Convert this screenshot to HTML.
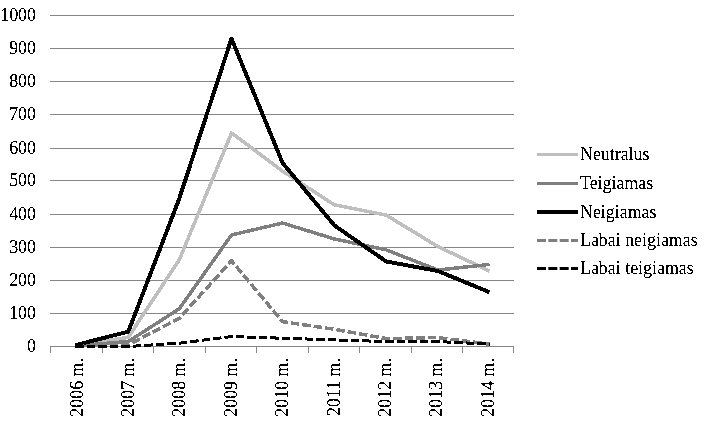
<!DOCTYPE html>
<html><head><meta charset="utf-8"><style>
html,body{margin:0;padding:0;background:#fff;overflow:hidden;width:706px;height:422px;}
svg{display:block;will-change:transform;}
text{font-family:"Liberation Serif",serif;font-size:17.9px;fill:#000;stroke:#000;stroke-width:0.12px;}
text.ax{stroke-width:0.15px;}
</style></head><body>
<svg width="706" height="422" viewBox="0 0 706 422">
<defs><filter id="bin" x="0" y="0" width="100%" height="100%" filterUnits="userSpaceOnUse"><feComponentTransfer><feFuncA type="discrete" tableValues="0 1"/></feComponentTransfer></filter></defs>
<rect width="706" height="422" fill="#fff"/>
<rect x="50" y="15" width="464" height="1" fill="#868686"/>
<rect x="50" y="48" width="464" height="1" fill="#868686"/>
<rect x="50" y="81" width="464" height="1" fill="#868686"/>
<rect x="50" y="114" width="464" height="1" fill="#868686"/>
<rect x="50" y="148" width="464" height="1" fill="#868686"/>
<rect x="50" y="180" width="464" height="1" fill="#868686"/>
<rect x="50" y="214" width="464" height="1" fill="#868686"/>
<rect x="50" y="247" width="464" height="1" fill="#868686"/>
<rect x="50" y="280" width="464" height="1" fill="#868686"/>
<rect x="50" y="313" width="464" height="1" fill="#868686"/>
<rect x="50" y="346" width="464" height="1" fill="#868686"/>
<rect x="50" y="346" width="1" height="7" fill="#868686"/>
<rect x="102" y="346" width="1" height="7" fill="#868686"/>
<rect x="153" y="346" width="1" height="7" fill="#868686"/>
<rect x="205" y="346" width="1" height="7" fill="#868686"/>
<rect x="256" y="346" width="1" height="7" fill="#868686"/>
<rect x="308" y="346" width="1" height="7" fill="#868686"/>
<rect x="359" y="346" width="1" height="7" fill="#868686"/>
<rect x="411" y="346" width="1" height="7" fill="#868686"/>
<rect x="462" y="346" width="1" height="7" fill="#868686"/>
<rect x="513" y="346" width="1" height="7" fill="#868686"/>
<polyline shape-rendering="crispEdges" points="75.40,345.84 128.30,337.23 179.30,259.78 231.50,133.00 282.50,171.07 334.30,204.83 386.10,215.09 437.90,246.54 489.60,271.03" fill="none" stroke="#BFBFBF" stroke-width="3.6" stroke-linejoin="round" stroke-linecap="butt"/>
<polyline shape-rendering="crispEdges" points="75.40,345.84 128.30,341.54 179.30,308.77 231.50,234.95 282.50,223.04 334.30,238.93 386.10,249.85 437.90,270.04 489.60,264.41" fill="none" stroke="#7F7F7F" stroke-width="3.5" stroke-linejoin="round" stroke-linecap="butt"/>
<polyline shape-rendering="crispEdges" points="75.40,345.18 128.30,331.61 179.30,198.54 231.50,38.67 282.50,162.79 334.30,225.35 386.10,261.43 437.90,271.03 489.60,292.22" fill="none" stroke="#000000" stroke-width="4" stroke-linejoin="round" stroke-linecap="butt"/>
<polyline shape-rendering="crispEdges" points="75.40,346.50 128.30,344.85 179.30,318.37 231.50,260.77 282.50,321.68 334.30,329.29 386.10,338.56 437.90,337.56 489.60,344.18" fill="none" stroke="#7F7F7F" stroke-width="3.5" stroke-linejoin="round" stroke-dasharray="8.5 3" stroke-linecap="butt"/>
<polyline shape-rendering="crispEdges" points="75.40,346.50 128.30,346.50 179.30,343.19 231.50,336.57 282.50,338.23 334.30,339.88 386.10,341.54 437.90,341.54 489.60,344.18" fill="none" stroke="#000000" stroke-width="3" stroke-linejoin="round" stroke-dasharray="8.5 3" stroke-linecap="butt"/>
<line x1="537" y1="154.5" x2="578" y2="154.5" stroke="#BFBFBF" stroke-width="3"/>
<line x1="537" y1="183.5" x2="578" y2="183.5" stroke="#7F7F7F" stroke-width="3"/>
<line x1="537" y1="212" x2="578" y2="212" stroke="#000000" stroke-width="4"/>
<line x1="537" y1="240.5" x2="578" y2="240.5" stroke="#7F7F7F" stroke-width="3" stroke-dasharray="9 2.33"/>
<line x1="537" y1="268.5" x2="578" y2="268.5" stroke="#000000" stroke-width="3" stroke-dasharray="9 2.33"/>
<g filter="url(#bin)">
<text class="ax" transform="translate(36.00,21.00) scale(1,1.07)" text-anchor="end">1000</text>
<text class="ax" transform="translate(36.00,54.00) scale(1,1.07)" text-anchor="end">900</text>
<text class="ax" transform="translate(36.00,87.00) scale(1,1.07)" text-anchor="end">800</text>
<text class="ax" transform="translate(36.00,120.00) scale(1,1.07)" text-anchor="end">700</text>
<text class="ax" transform="translate(36.00,154.00) scale(1,1.07)" text-anchor="end">600</text>
<text class="ax" transform="translate(36.00,186.00) scale(1,1.07)" text-anchor="end">500</text>
<text class="ax" transform="translate(36.00,220.00) scale(1,1.07)" text-anchor="end">400</text>
<text class="ax" transform="translate(36.00,253.00) scale(1,1.07)" text-anchor="end">300</text>
<text class="ax" transform="translate(36.00,286.00) scale(1,1.07)" text-anchor="end">200</text>
<text class="ax" transform="translate(36.00,319.00) scale(1,1.07)" text-anchor="end">100</text>
<text class="ax" transform="translate(36.00,352.00) scale(1,1.07)" text-anchor="end">0</text>
<text class="ax" transform="translate(82.60,358.00) rotate(-90) scale(1,1.0)" text-anchor="end">2006 m.</text>
<text class="ax" transform="translate(134.00,358.00) rotate(-90) scale(1,1.0)" text-anchor="end">2007 m.</text>
<text class="ax" transform="translate(185.40,358.00) rotate(-90) scale(1,1.0)" text-anchor="end">2008 m.</text>
<text class="ax" transform="translate(236.80,358.00) rotate(-90) scale(1,1.0)" text-anchor="end">2009 m.</text>
<text class="ax" transform="translate(288.20,358.00) rotate(-90) scale(1,1.0)" text-anchor="end">2010 m.</text>
<text class="ax" transform="translate(339.60,358.00) rotate(-90) scale(1,1.0)" text-anchor="end">2011 m.</text>
<text class="ax" transform="translate(391.00,358.00) rotate(-90) scale(1,1.0)" text-anchor="end">2012 m.</text>
<text class="ax" transform="translate(442.40,358.00) rotate(-90) scale(1,1.0)" text-anchor="end">2013 m.</text>
<text class="ax" transform="translate(493.80,358.00) rotate(-90) scale(1,1.0)" text-anchor="end">2014 m.</text>
<text transform="translate(580.00,160.00) scale(1,1.07)">Neutralus</text>
<text transform="translate(580.00,189.00) scale(1,1.07)">Teigiamas</text>
<text transform="translate(580.00,217.50) scale(1,1.07)">Neigiamas</text>
<text transform="translate(580.00,246.00) scale(1,1.07)">Labai neigiamas</text>
<text transform="translate(580.00,274.00) scale(1,1.07)">Labai teigiamas</text>
</g>
</svg>
</body></html>
